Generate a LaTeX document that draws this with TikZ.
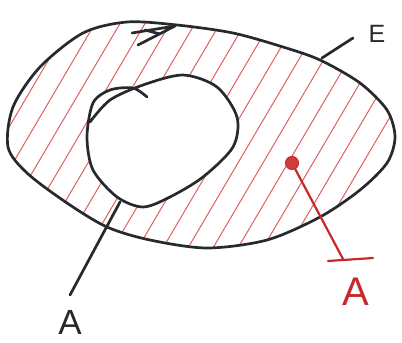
\documentclass[tikz,border=0pt]{standalone}
\usepackage{fontspec}
\setmainfont{Liberation Sans}
\definecolor{ink}{RGB}{38,42,44}
\definecolor{hatch}{RGB}{222,95,95}
\definecolor{redink}{RGB}{200,40,40}
\tikzset{
  pen/.style={draw=ink,line width=2.7pt,line cap=round,line join=round},
  redpen/.style={draw=redink,line width=2.2pt,line cap=round},
  hatchline/.style={draw=hatch,line width=1pt},
  lbl/.style={inner sep=0pt,font=\fontsize{35}{35}\selectfont,text=ink},
}
\begin{document}
\begin{tikzpicture}[x=1pt,y=-1pt]
\useasboundingbox (0,0) rectangle (402,343);
% hatching between E and A
\begin{scope}[even odd rule,smooth cycle]
  \clip
    plot coordinates {(127,22) (177,25) (233,33) (283,47) (320,60) (360,83) (387,110) (395,137) (387,163) (360,190) (320,217) (267,240) (207,248) (150,240) (107,227) (67,203) (27,173) (8,147) (13,107) (40,67) (83,33)}
    plot coordinates {(110,90) (143,85) (183,75) (217,87) (237,117) (233,147) (203,177) (170,197) (143,207) (117,197) (93,170) (87,137) (93,103)};
  \foreach \i in {-7,...,16}{
    \draw[hatchline] (\i*25,270) -- ++(180,-306);
  }
\end{scope}
% outer set E
\draw[pen] plot[smooth cycle] coordinates {(127,22) (177,25) (233,33) (283,47) (320,60) (360,83) (387,110) (395,137) (387,163) (360,190) (320,217) (267,240) (207,248) (150,240) (107,227) (67,203) (27,173) (8,147) (13,107) (40,67) (83,33)};
% direction mark on E
\draw[pen] (132,33) -- (175,26) -- (138,45);
\draw[pen] (145,30) -- (160,34);
% inner set A
\draw[pen] plot[smooth] coordinates {(90,122) (110,100) (143,85) (183,75) (217,87) (237,117) (233,147) (203,177) (170,197) (143,207) (117,197) (93,170) (87,137) (93,103) (110,90) (133,88) (147,97)};
% labels
\coordinate (eE) at (322,58);
\coordinate (eT) at (353,38);
\node[lbl,font=\fontsize{25}{25}\selectfont] (E) at (377,34) {E};
\draw[pen] (eE) -- (eT);
\coordinate (aS) at (120,202);
\coordinate (aT) at (70,295);
\node[lbl] (A) at (70,322) {A};
\draw[pen] (aS) -- (aT);
% complement
\node[circle,fill=redink!90,draw=redink,line width=1pt,minimum size=13pt,inner sep=0pt] (dot) at (292,163) {};
\coordinate (barm) at (343,259);
\coordinate (barl) at (328,261);
\coordinate (barr) at (373,258);
\draw[redpen] (dot) -- (barm);
\draw[redpen] (barl) -- (barr);
\node[lbl,text=redink,font=\fontsize{40}{40}\selectfont] (Abar) at (356,292) {A};
\end{tikzpicture}
\end{document}
